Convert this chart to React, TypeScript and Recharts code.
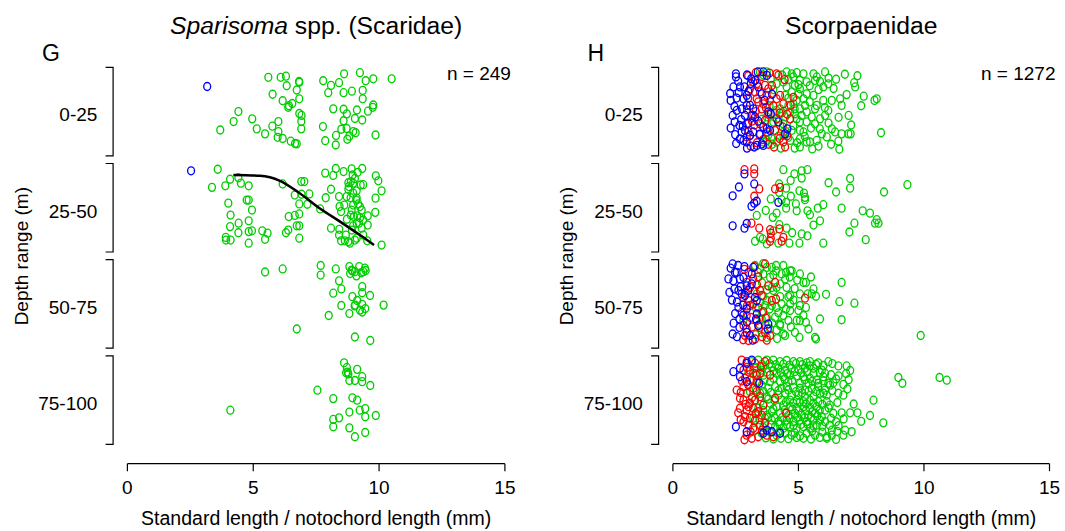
import React from "react";
import { ScatterChart, Scatter, XAxis, YAxis } from "recharts";

const FONT = '"Liberation Sans", Arial, Helvetica, sans-serif';
const GREEN = "#00CD00";
const RED = "#FF0000";
const BLUE = "#0000FF";

// ---------- axis categories / ticks ----------
const DEPTH_LABELS = ["0-25", "25-50", "50-75", "75-100"];
const DEPTH_TICKS = [12.5, 37.5, 62.5, 87.5];
const LENGTH_TICKS = [0, 5, 10, 15];

// ---------- data: [length (mm), jittered depth position (m)] ----------
// Panel G: Sparisoma spp. (Scaridae)
const G_BLUE: [number, number][] = [[3.17, 6.0], [2.53, 27.9]];

const G_GREEN_0_25: [number, number][] = [
  [5.60, 3.6], [6.09, 3.6], [6.30, 3.3], [6.82, 4.7], [6.83, 4.9], [7.78, 4.5], [8.09, 5.7], [8.41, 5.0], [8.61, 2.7], [9.24, 2.4], [9.47, 4.5], [9.77, 4.0], [10.50, 4.0],
  [6.33, 5.8], [6.73, 6.9], [5.77, 8.0], [7.98, 7.6], [8.59, 7.6], [8.92, 7.2], [9.35, 7.0], [9.35, 9.2],
  [6.17, 9.7], [6.42, 11.0], [6.55, 10.4], [6.83, 9.2], [6.39, 11.4], [6.83, 13.0], [6.92, 13.5], [6.91, 15.1], [6.91, 17.0],
  [8.18, 11.8], [8.59, 11.9], [8.72, 13.1], [9.12, 12.1], [9.56, 12.4], [9.77, 10.8], [9.75, 11.4], [9.04, 14.3], [9.33, 14.7], [8.59, 14.9],
  [4.41, 12.5], [4.22, 15.1], [4.96, 14.4], [3.69, 17.3], [5.14, 17.0], [5.47, 18.3], [5.76, 16.3], [6.00, 15.1], [6.00, 17.7], [5.97, 19.2], [6.17, 19.5], [6.49, 20.2], [6.66, 20.8], [6.73, 20.9],
  [7.77, 16.4], [7.86, 20.1], [8.28, 21.2], [8.29, 18.7], [8.50, 17.1], [8.71, 16.9], [8.74, 19.7], [8.82, 18.9], [8.97, 17.7], [9.07, 18.0], [9.86, 18.6],
];

const G_GREEN_25_50: [number, number][] = [
  [3.59, 27.5], [4.08, 30.1], [4.41, 29.7], [4.51, 31.1], [4.82, 31.8], [3.89, 31.8], [3.36, 32.2], [6.17, 31.3], [6.91, 30.7], [7.03, 30.7],
  [6.65, 34.2], [6.92, 34.0], [7.23, 33.9], [6.83, 36.5], [7.15, 36.6], [7.66, 37.8], [7.88, 34.9], [8.09, 32.7], [8.41, 34.6], [7.86, 28.5],
  [8.18, 29.1], [8.28, 27.3], [8.59, 28.1], [8.91, 27.4], [9.33, 27.3], [8.95, 29.0], [9.15, 28.3], [9.04, 29.9], [8.88, 30.7], [8.78, 31.0],
  [8.97, 31.1], [9.27, 31.6], [9.37, 31.5], [8.78, 32.7], [9.11, 33.1], [8.71, 34.6], [8.87, 34.9], [9.11, 35.0], [9.17, 36.5], [8.97, 36.8],
  [8.62, 36.8], [8.43, 37.2], [8.49, 38.5], [8.72, 40.5], [8.88, 39.4], [9.00, 39.8], [9.13, 39.6], [9.24, 40.1], [9.55, 39.6], [9.87, 29.2],
  [9.97, 30.5], [10.10, 33.1], [9.86, 35.0], [9.85, 38.7], [9.20, 41.5], [9.11, 41.5], [8.97, 42.2], [9.31, 42.8], [9.55, 42.0], [8.09, 42.8],
  [8.42, 43.1], [8.41, 44.6], [8.49, 46.1], [8.64, 46.1], [8.78, 46.3], [8.84, 46.7], [9.04, 45.9], [9.11, 45.4], [9.53, 46.1], [10.10, 47.2],
  [4.01, 36.3], [4.10, 39.4], [4.08, 42.4], [4.42, 41.5], [4.41, 44.0], [4.82, 40.9], [4.82, 43.7], [4.95, 43.5], [4.95, 38.1], [4.74, 35.5],
  [4.82, 35.5], [3.91, 45.2], [3.92, 45.9], [4.10, 45.9], [4.82, 46.7], [5.36, 43.5], [5.57, 44.1], [5.47, 45.7], [6.30, 44.0], [6.39, 43.3],
  [6.41, 39.8], [6.65, 39.5], [6.83, 39.1], [6.73, 42.2], [6.83, 42.2], [6.83, 45.4],
  [8.80, 32.0], [8.97, 33.7], [9.24, 37.2], [9.37, 40.7], [9.09, 35.5], [9.31, 38.1], [8.91, 38.1], [8.68, 44.6], [9.37, 44.6], [8.92, 43.3],
];

const G_GREEN_50_75: [number, number][] = [
  [5.47, 54.2], [6.17, 53.4], [7.68, 52.5], [7.68, 55.0], [8.28, 53.4], [8.82, 52.8], [8.91, 53.7], [8.94, 53.9], [9.04, 54.1], [9.21, 52.8],
  [9.29, 54.4], [9.44, 53.2], [9.47, 53.8], [9.37, 54.1], [8.41, 56.5], [8.50, 58.6], [9.33, 58.0], [9.33, 59.6], [8.18, 59.7], [8.94, 60.6],
  [9.13, 61.6], [9.64, 60.3], [9.05, 62.8], [9.03, 63.0], [9.33, 62.6], [9.24, 64.1], [9.45, 63.7], [9.33, 64.6], [8.50, 62.9], [8.82, 65.0],
  [8.00, 65.5], [10.18, 62.8], [6.73, 69.0], [9.04, 71.1], [9.65, 72.0], [8.85, 54.6], [9.10, 55.2],
];

const G_GREEN_75_100: [number, number][] = [
  [8.61, 77.8], [8.72, 79.0], [9.13, 79.5], [8.69, 80.4], [8.78, 80.7], [8.82, 82.4], [9.04, 82.4], [9.33, 81.4], [9.33, 82.7], [9.65, 83.7],
  [7.55, 84.9], [8.18, 87.1], [8.94, 86.9], [9.13, 87.5], [4.09, 90.1], [8.82, 90.6], [9.23, 90.1], [9.45, 89.7], [9.45, 91.8], [9.87, 91.5],
  [8.18, 92.5], [8.41, 92.1], [8.18, 94.4], [8.82, 94.7], [9.45, 95.9], [9.04, 97.0], [8.75, 80.2],
];

// fitted curve (25-50 m) in panel G
const G_CURVE: [number, number][] = [
  [4.21, 29.0], [5.27, 29.2], [6.06, 30.5], [6.86, 33.8], [7.65, 37.7], [8.45, 41.1], [9.24, 44.6], [9.80, 47.2],
];

// Panel H: Scorpaenidae
const H_GREEN_0_25: [number, number][] = [
  [3.47, 2.2], [3.74, 2.2], [4.53, 2.2], [4.73, 2.7], [4.93, 2.4], [5.20, 2.7], [5.60, 2.7], [5.73, 3.5], [6.06, 2.2], [6.50, 4.1],
  [5.06, 4.4], [5.33, 4.8], [5.66, 4.4], [5.86, 4.7], [5.99, 6.1], [6.19, 5.3], [7.22, 5.0], [7.26, 6.1], [6.92, 8.1], [6.66, 9.2],
  [6.72, 10.9], [6.33, 9.6], [5.99, 9.6], [5.60, 8.3], [5.20, 9.2], [4.93, 9.6], [4.80, 10.5], [5.06, 11.8], [5.26, 10.9], [5.33, 12.6],
  [5.13, 13.5], [4.86, 13.1], [4.47, 13.9], [4.67, 12.6], [4.27, 11.8], [4.60, 10.9], [4.13, 5.3], [4.40, 4.8], [4.80, 3.5], [5.06, 6.6],
  [4.73, 7.4], [4.47, 8.3], [4.27, 16.1], [4.40, 15.7], [4.80, 16.1], [5.06, 15.2], [5.33, 15.2], [5.66, 15.7], [5.06, 17.4], [5.20, 17.8],
  [5.93, 18.3], [6.33, 17.0], [6.46, 17.8], [6.72, 18.3], [6.99, 18.3], [7.08, 18.3], [6.13, 19.1], [5.73, 20.0], [5.33, 20.4], [5.06, 21.7],
  [5.46, 20.4], [6.59, 20.2], [6.63, 22.3], [3.74, 20.0], [3.94, 19.6], [4.13, 20.4], [3.60, 20.4], [4.00, 15.2], [4.40, 18.7], [4.67, 20.0],
  [8.03, 9.6], [8.12, 9.2], [8.29, 18.0], [6.06, 13.5], [6.19, 12.2], [5.86, 14.4], [5.53, 13.9], [4.93, 14.4], [4.73, 17.4], [5.66, 11.8],
  [5.73, 10.9], [4.53, 6.1], [4.86, 5.7], [5.33, 7.9], [4.13, 12.2], [4.53, 17.8], [5.06, 19.6], [3.74, 13.9], [3.94, 15.7],
  [3.60, 3.0], [3.90, 4.0], [4.35, 3.0], [4.60, 4.2], [5.00, 5.5], [5.45, 5.8], [5.80, 6.8], [6.40, 6.5], [6.05, 11.5], [5.45, 10.0],
  [5.00, 8.0], [4.60, 9.0], [4.35, 12.8], [4.85, 11.8], [5.50, 16.8], [5.85, 17.0], [6.20, 15.5], [6.60, 14.0], [7.00, 13.5], [7.50, 11.0],
  [7.60, 8.5], [7.10, 16.0], [4.60, 19.2], [4.95, 20.6], [5.80, 21.5], [6.30, 21.0], [3.85, 11.0], [4.05, 13.0], [3.95, 21.0], [4.30, 22.0],
  [4.85, 22.0], [5.55, 22.2], [6.20, 3.8], [6.85, 2.8], [7.35, 3.2], [3.80, 18.6], [4.20, 18.9], [5.25, 19.0], [3.55, 14.5], [4.00, 6.8],
];

const H_RED_0_25: [number, number][] = [
  [4.13, 2.7], [4.20, 3.1], [3.94, 5.7], [3.67, 5.7], [3.07, 6.6], [3.47, 7.4], [3.74, 8.3], [4.27, 8.3], [4.13, 9.2], [3.40, 10.0],
  [3.60, 10.5], [3.87, 9.6], [4.40, 10.5], [4.69, 10.9], [3.20, 13.5], [3.47, 15.7], [3.67, 14.8], [4.13, 14.4], [4.67, 14.4], [3.01, 17.8],
  [3.07, 18.7], [2.94, 19.1], [3.47, 18.3], [4.07, 17.4], [4.37, 16.5], [4.40, 20.4], [4.47, 21.7], [4.03, 21.7], [3.34, 9.2], [3.80, 6.6],
  [3.20, 4.8], [3.27, 7.4], [3.54, 11.8], [2.94, 15.7],
  [3.00, 3.2], [3.30, 2.4], [3.55, 3.4], [3.85, 2.5], [4.45, 4.2], [3.35, 5.2], [3.00, 9.0], [3.30, 12.5], [2.95, 12.0], [3.80, 13.2],
  [4.25, 12.9], [4.55, 13.2], [3.25, 16.0], [3.75, 17.8], [4.25, 19.5], [3.60, 19.8], [3.35, 20.6], [3.10, 21.5], [3.80, 21.0], [4.55, 18.8],
  [4.80, 8.8], [3.70, 11.5], [4.00, 11.0], [3.15, 15.0],
];

const H_BLUE_0_25: [number, number][] = [
  [2.51, 2.7], [2.51, 3.5], [2.41, 6.1], [2.67, 6.1], [2.85, 6.1], [2.30, 9.6], [2.54, 9.0], [2.81, 9.2], [2.94, 8.3], [3.01, 7.3],
  [2.94, 10.9], [2.87, 13.5], [2.38, 13.5], [2.54, 12.2], [2.65, 16.1], [2.78, 16.3], [2.74, 17.8], [2.87, 17.4], [2.67, 19.6], [2.81, 20.0],
  [2.94, 20.4], [3.24, 21.7], [3.34, 21.3], [3.54, 20.9], [3.60, 21.3], [3.07, 18.7], [3.20, 17.8], [3.27, 13.9], [3.14, 13.5], [3.38, 2.2],
  [3.27, 4.4], [3.60, 2.2], [3.74, 3.1], [3.07, 10.9], [3.20, 11.8], [3.80, 12.6], [3.90, 13.1], [3.74, 17.0], [3.87, 17.4], [3.60, 16.5],
  [4.56, 17.0], [4.47, 18.3], [3.40, 6.1], [3.54, 7.9],
  [2.60, 4.6], [2.95, 3.0], [3.10, 5.2], [2.28, 7.8], [2.62, 7.6], [2.45, 11.2], [2.75, 11.8], [2.72, 14.6], [2.46, 15.2], [2.30, 16.8],
  [2.48, 18.5], [2.52, 20.8], [3.00, 15.6], [3.40, 15.0], [2.95, 22.0], [3.45, 18.5], [3.65, 9.6], [3.95, 8.0], [4.20, 15.2], [3.12, 4.0],
];

const H_GREEN_25_50: [number, number][] = [
  [4.40, 27.6], [4.84, 28.7], [5.13, 27.9], [5.36, 27.6], [5.13, 29.8], [4.69, 30.4], [4.23, 31.3], [4.51, 32.4], [4.23, 33.5], [5.04, 33.1],
  [5.22, 33.7], [5.26, 34.8], [5.26, 35.4], [3.90, 35.2], [4.33, 35.4], [4.51, 36.1], [4.51, 37.6], [4.13, 38.9], [3.98, 40.0], [3.34, 39.5],
  [4.93, 38.3], [5.36, 38.3], [5.46, 39.3], [5.77, 37.6], [5.99, 36.7], [5.86, 40.9], [6.50, 33.4], [7.06, 29.9], [7.06, 32.4], [8.41, 33.4],
  [9.34, 31.5], [6.72, 37.6], [7.56, 38.3], [7.85, 38.9], [8.12, 40.6], [8.05, 41.5], [8.19, 41.5], [7.23, 41.5], [7.03, 43.8], [7.68, 45.8],
  [5.99, 46.7], [4.24, 41.9], [4.53, 42.8], [5.13, 44.3], [5.36, 44.8], [5.04, 46.7], [4.64, 46.7], [4.20, 46.7], [3.74, 46.9], [3.27, 46.2],
  [3.47, 45.2], [3.58, 45.6],
  [4.70, 34.5], [4.90, 36.5], [3.70, 38.2], [4.00, 43.5], [4.75, 44.0], [5.60, 42.0], [6.20, 31.0],
];

const H_RED_25_50: [number, number][] = [
  [2.85, 27.6], [3.24, 27.4], [3.24, 28.7], [3.44, 32.6], [4.07, 32.6], [4.27, 32.2], [3.24, 34.5], [3.13, 41.5], [3.44, 42.8], [3.87, 43.2],
  [3.90, 44.1], [3.90, 45.4], [4.24, 43.0], [4.40, 45.2], [3.87, 46.2], [4.33, 46.2],
];

const H_BLUE_25_50: [number, number][] = [
  [2.85, 28.7], [2.63, 32.1], [2.38, 34.4], [3.24, 31.3], [3.13, 37.1], [3.34, 35.8], [3.24, 36.3], [4.20, 36.1], [2.38, 42.2], [2.85, 42.8],
  [2.94, 41.6],
];

const H_GREEN_50_75: [number, number][] = [
  [3.27, 52.5], [3.47, 53.4], [3.74, 53.0], [3.94, 53.0], [4.11, 52.5], [4.11, 53.9], [3.40, 54.3], [3.60, 54.7], [3.87, 55.6], [4.33, 54.7],
  [4.51, 54.3], [4.67, 53.9], [4.73, 53.9], [5.06, 54.7], [4.47, 56.0], [4.27, 57.3], [4.53, 58.2], [4.13, 58.2], [3.94, 58.2], [5.20, 56.9],
  [5.30, 56.9], [5.60, 58.6], [5.53, 59.9], [5.37, 59.9], [5.06, 59.9], [4.67, 60.3], [4.60, 60.6], [4.27, 60.6], [3.74, 61.6], [3.47, 62.1],
  [3.67, 62.9], [3.94, 62.9], [4.13, 63.4], [4.33, 62.5], [4.67, 62.5], [5.06, 62.9], [5.30, 63.4], [5.00, 64.2], [4.67, 64.2], [4.40, 65.5],
  [4.07, 66.0], [3.74, 66.0], [3.54, 66.4], [4.27, 67.7], [4.27, 68.1], [4.60, 66.8], [4.93, 66.8], [5.06, 66.8], [5.30, 67.3], [5.86, 66.4],
  [6.72, 56.9], [6.63, 61.9], [7.23, 62.3], [6.72, 66.6], [9.87, 70.7], [2.81, 66.8], [3.54, 69.9], [3.87, 69.0], [4.40, 70.3], [4.47, 70.7],
  [4.86, 69.9], [5.04, 71.2], [5.66, 71.2], [5.70, 71.6], [3.74, 71.2], [4.13, 69.3], [4.00, 59.0], [3.34, 59.9],
  [3.55, 57.0], [3.75, 58.8], [3.60, 60.5], [3.85, 63.8], [3.55, 64.8], [3.30, 63.5], [3.45, 67.8], [3.95, 67.5], [4.20, 64.8], [4.50, 63.8],
  [4.80, 61.5], [4.85, 58.5], [4.95, 56.3], [4.65, 55.5], [4.00, 55.0], [3.60, 52.0], [4.40, 52.5], [5.50, 55.5], [5.70, 60.5], [5.20, 65.5],
  [4.70, 68.5], [4.15, 71.5], [3.30, 70.5], [5.40, 69.0], [6.10, 60.0],
];

const H_RED_50_75: [number, number][] = [
  [3.67, 52.1], [3.01, 54.3], [3.20, 56.0], [2.94, 56.9], [3.07, 58.2], [2.81, 60.8], [3.01, 61.6], [3.07, 62.9], [3.20, 62.5], [2.74, 64.7],
  [2.94, 65.5], [2.81, 68.1], [2.94, 69.0], [2.87, 70.7], [3.01, 72.0], [3.27, 71.6], [3.74, 71.9], [3.67, 69.9], [3.44, 68.6], [3.34, 66.8],
  [4.07, 56.9], [3.47, 59.0], [3.94, 61.6], [4.11, 61.2], [3.54, 60.3], [5.26, 61.0], [3.87, 70.7],
  [2.85, 53.5], [3.25, 52.8], [3.40, 55.5], [3.35, 57.5], [2.90, 59.5], [3.25, 59.2], [3.40, 63.5], [2.95, 63.0], [3.10, 66.0], [3.60, 64.5],
  [3.15, 68.5], [2.80, 71.8], [3.55, 71.0], [3.80, 57.8], [3.70, 66.2],
];

const H_BLUE_50_75: [number, number][] = [
  [2.38, 52.1], [2.47, 54.3], [2.21, 56.0], [2.41, 56.5], [2.54, 54.3], [2.67, 56.0], [2.81, 55.6], [2.45, 58.6], [2.61, 59.0], [2.74, 59.9],
  [2.87, 60.3], [2.94, 57.8], [3.14, 57.3], [3.20, 53.0], [3.14, 54.7], [2.61, 63.4], [2.94, 63.8], [2.65, 66.4], [2.65, 68.6], [2.38, 70.3],
  [2.94, 69.9], [3.07, 70.7], [3.18, 71.9], [3.34, 65.1], [3.31, 66.4], [3.40, 68.1], [3.27, 60.8], [3.34, 61.6], [3.80, 67.7], [3.78, 69.0],
  [2.30, 53.2], [2.60, 52.5], [2.85, 52.8], [2.35, 61.5], [2.55, 62.0], [2.80, 62.8], [2.48, 65.0], [2.80, 65.5], [2.42, 67.5], [2.95, 67.2],
  [2.55, 71.0], [3.00, 59.0], [2.70, 58.0], [2.25, 59.5],
];

const H_GREEN_75_100: [number, number][] = [
  [3.14, 77.5], [3.40, 77.1], [3.74, 77.1], [4.00, 77.1], [4.27, 77.5], [4.53, 77.2], [4.80, 77.5], [5.06, 77.5], [5.33, 77.8], [5.46, 77.5],
  [5.79, 77.8], [6.19, 77.5], [6.59, 78.6], [6.92, 78.6], [7.06, 79.8], [8.98, 81.6], [9.14, 83.1], [10.62, 81.6], [10.91, 82.3],
  [3.27, 79.2], [3.60, 78.8], [3.94, 78.8], [4.20, 79.2], [4.47, 79.7], [4.73, 79.2], [5.00, 79.5], [5.26, 79.2], [5.60, 79.2], [5.93, 79.7],
  [6.06, 80.5], [4.13, 80.5], [4.40, 81.4], [4.67, 81.0], [4.93, 81.2], [5.20, 81.4], [5.46, 81.8], [5.73, 82.3], [5.99, 81.4], [6.19, 83.1],
  [6.39, 83.0], [6.79, 83.4], [3.87, 82.7], [4.27, 82.7], [4.60, 82.7], [5.06, 83.1], [5.40, 83.1], [5.79, 83.1],
  [3.54, 83.6], [3.80, 84.4], [4.07, 84.0], [4.33, 84.4], [4.53, 84.0], [4.80, 84.2], [5.06, 84.4], [5.26, 84.9], [5.53, 84.4], [5.79, 84.0],
  [6.06, 84.9], [6.26, 83.6], [6.59, 85.7], [6.79, 86.2], [4.47, 85.7], [4.73, 86.2], [5.00, 86.2], [5.26, 86.6], [5.60, 86.6], [5.86, 85.7],
  [6.13, 86.2], [3.74, 86.6], [4.20, 86.2], [7.99, 87.5], [4.33, 87.5], [4.67, 87.5], [4.93, 87.5], [5.20, 87.9], [5.46, 87.5], [5.79, 87.9],
  [6.13, 87.9],
  [3.87, 88.3], [4.13, 89.2], [4.40, 88.8], [4.67, 89.2], [4.93, 89.6], [5.20, 89.2], [5.46, 89.6], [5.73, 89.2], [6.06, 90.1], [6.39, 90.9],
  [6.72, 90.8], [7.06, 90.8], [7.35, 90.8], [7.85, 91.5], [8.38, 93.4], [3.94, 90.5], [4.27, 90.9], [4.60, 91.4], [4.86, 90.9], [5.13, 91.4],
  [5.40, 91.4], [5.66, 90.9], [5.93, 91.8],
  [3.67, 92.2], [3.94, 92.7], [4.20, 93.1], [4.53, 92.7], [4.80, 93.1], [5.06, 92.7], [5.33, 93.1], [5.60, 92.7], [5.86, 92.7], [6.06, 93.1],
  [6.50, 93.1], [4.07, 94.4], [4.40, 94.8], [4.67, 94.4], [4.93, 94.8], [5.20, 94.4], [5.46, 94.8], [5.73, 94.0], [6.33, 95.3], [6.86, 95.3],
  [7.12, 95.7], [4.47, 96.1], [4.73, 96.6], [5.06, 96.8], [5.33, 96.1], [5.66, 96.6], [6.13, 97.0], [6.33, 96.6], [6.79, 96.6], [3.27, 95.3],
  [3.54, 96.1], [4.13, 96.6], [3.87, 95.7], [4.93, 97.2], [6.13, 97.4],
  [3.01, 80.1], [3.20, 82.3], [3.07, 85.3], [3.27, 87.5], [3.40, 89.6], [3.20, 92.2], [3.47, 94.0], [3.60, 81.0], [3.47, 85.7], [3.60, 88.8],
  [3.74, 91.4], [3.54, 79.7],
  [3.55, 78.2], [3.85, 78.0], [4.10, 78.3], [4.40, 78.1], [4.65, 78.4], [4.90, 78.0], [5.15, 78.3], [5.45, 78.6], [5.70, 78.2], [6.00, 78.5],
  [6.35, 78.0], [3.30, 80.6], [3.75, 80.2], [4.00, 79.9], [4.30, 80.3], [4.55, 80.6], [4.85, 80.1], [5.10, 80.4], [5.35, 80.1], [5.60, 80.6],
  [5.85, 80.3], [6.30, 80.9], [6.60, 81.2], [6.90, 80.6], [3.40, 82.6], [3.65, 82.2], [4.00, 81.8], [4.45, 82.1], [4.75, 82.4], [5.25, 82.2],
  [5.55, 82.6], [6.00, 82.5], [6.50, 82.0], [7.00, 82.2], [3.30, 84.8], [3.60, 85.2], [3.90, 85.5], [4.20, 85.0], [4.60, 84.9], [4.90, 85.3],
  [5.15, 85.6], [5.40, 85.2], [5.70, 85.3], [6.00, 85.7], [6.35, 85.0], [6.95, 84.6], [3.50, 87.8], [3.80, 87.2], [4.05, 87.6], [4.50, 88.0],
  [4.80, 88.3], [5.05, 88.1], [5.30, 88.5], [5.60, 88.3], [5.95, 88.6], [6.25, 88.8], [6.55, 88.1], [7.20, 88.5], [3.30, 90.9], [3.60, 90.2],
  [4.00, 89.8], [4.45, 90.1], [4.75, 89.9], [5.00, 90.3], [5.30, 90.2], [5.55, 90.5], [5.85, 90.2], [6.20, 89.5], [3.45, 92.6], [3.80, 91.9],
  [4.05, 92.1], [4.35, 92.0], [4.65, 92.2], [4.95, 91.9], [5.25, 92.1], [5.50, 92.0], [5.75, 91.6], [6.30, 92.2], [6.80, 92.4], [7.50, 93.0],
  [3.60, 94.6], [3.90, 94.0], [4.25, 93.8], [4.55, 93.9], [4.80, 94.1], [5.10, 93.8], [5.35, 93.7], [5.60, 94.2], [5.95, 94.3], [6.25, 94.0],
  [6.60, 94.1], [3.70, 97.3], [4.00, 97.6], [4.30, 97.4], [4.60, 97.5], [4.85, 96.0], [5.20, 97.4], [5.50, 97.6], [5.85, 97.2], [6.50, 97.7],
  [4.25, 95.6], [5.55, 95.5], [5.95, 95.8], [6.55, 95.6],
];

const H_RED_75_100: [number, number][] = [
  [2.74, 77.1], [2.94, 77.5], [3.27, 77.9], [3.67, 77.5], [2.81, 79.7], [3.07, 79.7], [3.34, 81.0], [3.47, 80.5], [3.87, 81.0], [2.87, 81.8],
  [3.07, 82.3], [2.81, 84.0], [3.20, 84.4], [2.94, 85.7], [2.67, 87.0], [2.81, 87.5], [3.07, 88.3], [3.27, 87.5], [3.47, 86.6], [4.07, 87.0],
  [2.67, 89.6], [2.94, 90.1], [3.20, 89.6], [3.40, 90.5], [2.87, 91.8], [3.07, 92.2], [3.27, 92.7], [3.54, 91.4], [4.51, 90.9], [2.81, 93.1],
  [3.01, 94.0], [3.20, 94.8], [3.47, 94.0], [3.67, 93.5], [2.94, 96.6], [3.14, 97.4], [3.40, 97.0], [3.74, 96.6], [2.54, 84.9], [3.01, 89.2],
  [3.34, 85.3], [3.60, 88.8], [4.00, 97.0],
  [2.95, 79.0], [3.20, 80.5], [2.75, 82.5], [3.00, 83.5], [2.70, 85.5], [3.15, 86.8], [2.90, 88.6], [3.30, 91.0], [2.70, 92.6], [3.10, 95.8],
  [2.85, 97.8], [3.55, 95.3], [3.35, 83.0], [3.50, 78.8], [2.60, 90.8],
];

const H_BLUE_75_100: [number, number][] = [
  [2.41, 80.1], [2.67, 81.4], [2.94, 82.7], [3.44, 83.1], [2.51, 94.4], [2.94, 95.7], [3.60, 96.1], [3.94, 95.7], [4.27, 96.1], [2.67, 79.2],
  [2.94, 77.9], [3.14, 77.1], [3.74, 95.3],
];

// ---------- layout ----------
const CHART_H = 531;
const Y_DOMAIN: [number, number] = [0, 104];
const MARGIN_TOP = 63.45;
const PLOT_H = 400.2;
const YAXIS_W = 100;
const XAXIS_H = 60;
const MARGIN_BOTTOM = CHART_H - MARGIN_TOP - PLOT_H - XAXIS_H;
const PX_PER_M = PLOT_H / (Y_DOMAIN[1] - Y_DOMAIN[0]);

const toPts = (arr: [number, number][]) => arr.map(([x, y]) => ({ x, y }));

const ring = (color: string) => (props: any) => (
  <ellipse cx={props.cx} cy={props.cy} rx={3.45} ry={4.0} fill="none" stroke={color} strokeWidth={1.35} />
);

const makeBracketTick = (plotLeft: number) => (props: any) => {
  const { y, payload } = props;
  const i = DEPTH_TICKS.indexOf(payload.value);
  const bx = plotLeft - 14.3;
  const half = 11.5 * PX_PER_M;
  return (
    <g>
      <path d={`M${bx - 7.5},${y - half}H${bx}V${y + half}H${bx - 7.5}`} fill="none" stroke="#000" strokeWidth={1.2} />
      <text x={plotLeft - 30} y={y + 9.8} textAnchor="end" fontSize={19} fontFamily={FONT} fill="#000">
        {DEPTH_LABELS[i]}
      </text>
    </g>
  );
};

type Series = { data: [number, number][]; color: string };

type PanelProps = {
  width: number;
  left: number;
  plotLeft: number;
  plotRight: number;
  letter: string;
  title: React.ReactNode;
  nLabel: string;
  series: Series[];
  curve?: [number, number][];
};

function Panel({ width, left, plotLeft, plotRight, letter, title, nLabel, series, curve }: PanelProps) {
  const cx = (plotLeft + plotRight) / 2;
  return (
    <div style={{ position: "absolute", left, top: 0, width, height: CHART_H }}>
      <ScatterChart
        width={width}
        height={CHART_H}
        margin={{ top: MARGIN_TOP, right: width - plotRight, bottom: MARGIN_BOTTOM, left: plotLeft - YAXIS_W }}
      >
        <XAxis
          type="number"
          dataKey="x"
          domain={[0, 15]}
          ticks={LENGTH_TICKS}
          interval={0}
          height={XAXIS_H}
          tickSize={7.5}
          tickMargin={9.6}
          axisLine={{ stroke: "#000", strokeWidth: 1.2 }}
          tickLine={{ stroke: "#000", strokeWidth: 1.2 }}
          tick={{ fill: "#000", fontSize: 19, fontFamily: FONT }}
        />
        <YAxis
          type="number"
          dataKey="y"
          domain={Y_DOMAIN}
          reversed
          ticks={DEPTH_TICKS}
          interval={0}
          width={YAXIS_W}
          axisLine={false}
          tickLine={false}
          tick={makeBracketTick(plotLeft)}
        />
        {series.map((s, i) => (
          <Scatter key={i} data={toPts(s.data)} shape={ring(s.color)} isAnimationActive={false} />
        ))}
        {curve && (
          <Scatter
            data={toPts(curve)}
            line={{ stroke: "#000", strokeWidth: 2.5 }}
            lineJointType="monotoneX"
            shape={() => <g />}
            isAnimationActive={false}
          />
        )}
      </ScatterChart>
      <svg width={width} height={CHART_H} style={{ position: "absolute", left: 0, top: 0, pointerEvents: "none" }}>
        <g fontFamily={FONT} fill="#000">
          <text x={cx} y={34} textAnchor="middle" fontSize={24.7}>{title}</text>
          <text x={plotLeft - 85.5} y={60.5} fontSize={23}>{letter}</text>
          <text x={plotRight + 6} y={79.5} textAnchor="end" fontSize={19}>{nLabel}</text>
          <text x={cx} y={525} textAnchor="middle" fontSize={19.5}>Standard length / notochord length (mm)</text>
          <text transform={`translate(${plotLeft - 99.7},256.2) rotate(-90)`} textAnchor="middle" fontSize={19}>
            Depth range (m)
          </text>
        </g>
      </svg>
    </div>
  );
}

export default function App() {
  return (
    <div style={{ position: "relative", width: 1065, height: CHART_H, background: "#fff" }}>
      <style>{"body{margin:0}"}</style>
      <Panel
        width={540}
        left={0}
        plotLeft={127.4}
        plotRight={504.9}
        letter="G"
        title={
          <>
            <tspan fontStyle="italic">Sparisoma</tspan> spp. (Scaridae)
          </>
        }
        nLabel="n = 249"
        series={[
          { data: G_GREEN_0_25, color: GREEN },
          { data: G_GREEN_25_50, color: GREEN },
          { data: G_GREEN_50_75, color: GREEN },
          { data: G_GREEN_75_100, color: GREEN },
          { data: G_BLUE, color: BLUE },
        ]}
        curve={G_CURVE}
      />
      <Panel
        width={525}
        left={540}
        plotLeft={132.9}
        plotRight={509.5}
        letter="H"
        title="Scorpaenidae"
        nLabel="n = 1272"
        series={[
          { data: H_GREEN_0_25, color: GREEN },
          { data: H_GREEN_25_50, color: GREEN },
          { data: H_GREEN_50_75, color: GREEN },
          { data: H_GREEN_75_100, color: GREEN },
          { data: H_RED_0_25, color: RED },
          { data: H_RED_25_50, color: RED },
          { data: H_RED_50_75, color: RED },
          { data: H_RED_75_100, color: RED },
          { data: H_BLUE_0_25, color: BLUE },
          { data: H_BLUE_25_50, color: BLUE },
          { data: H_BLUE_50_75, color: BLUE },
          { data: H_BLUE_75_100, color: BLUE },
        ]}
      />
    </div>
  );
}
